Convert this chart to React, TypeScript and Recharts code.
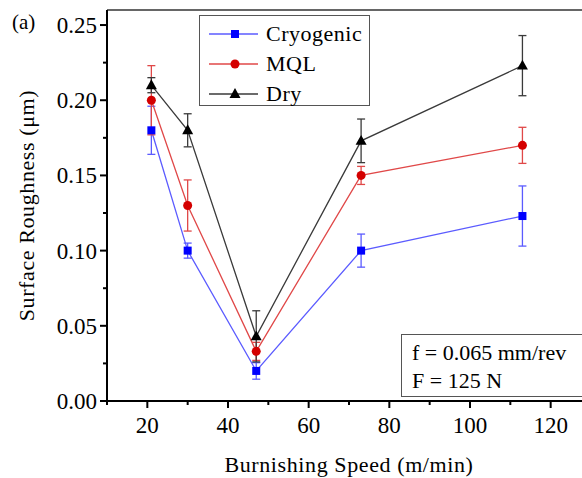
import React from 'react';
import { LineChart, Line, XAxis, YAxis, ErrorBar, Legend, ReferenceLine } from 'recharts';

const speeds = [21, 30, 47, 73, 113];
const cryogenic = [0.18, 0.1, 0.02, 0.1, 0.123];
const cryogenicErr = [0.016, 0.005, 0.0055, 0.011, 0.02];
const mql = [0.2, 0.13, 0.033, 0.15, 0.17];
const mqlErr = [0.023, 0.017, 0.006, 0.006, 0.012];
const dry = [0.21, 0.18, 0.043, 0.173, 0.223];
const dryErr = [0.005, 0.011, 0.017, 0.0145, 0.02];

const xTicks = [10, 20, 30, 40, 50, 60, 70, 80, 90, 100, 110, 120, 130];
const yTicks = [0, 0.025, 0.05, 0.075, 0.1, 0.125, 0.15, 0.175, 0.2, 0.225, 0.25];

const seriesNames = ['Cryogenic', 'MQL', 'Dry'];

const data = speeds.map((s, i) => ({
  speed: s,
  cryo: cryogenic[i],
  cryoErr: cryogenicErr[i],
  mql: mql[i],
  mqlErr: mqlErr[i],
  dry: dry[i],
  dryErr: dryErr[i],
}));

const FONT = '"Liberation Serif", "Times New Roman", serif';

const COLORS = {
  cryoLine: '#5b5bff',
  cryoMark: '#0000ff',
  mqlLine: '#e04848',
  mqlMark: '#d40000',
  dryLine: '#3a3a3a',
  dryMark: '#000000',
};

const Square = (props: any) => {
  const { cx, cy, fill, size = 8 } = props;
  if (cx == null || cy == null) return null;
  return <rect x={cx - size / 2} y={cy - size / 2} width={size} height={size} fill={fill} />;
};
const Circ = (props: any) => {
  const { cx, cy, fill, size = 9 } = props;
  if (cx == null || cy == null) return null;
  return <circle cx={cx} cy={cy} r={size / 2} fill={fill} />;
};
const Tri = (props: any) => {
  const { cx, cy, fill, size = 11 } = props;
  if (cx == null || cy == null) return null;
  const h = size * 0.9;
  return (
    <path
      d={`M${cx},${cy - h * 0.6} L${cx + size / 2},${cy + h * 0.4} L${cx - size / 2},${cy + h * 0.4} Z`}
      fill={fill}
    />
  );
};

const XTick = (props: any) => {
  const { x, y, payload } = props;
  const v = payload.value;
  const major = v % 20 === 0;
  return (
    <g>
      <line x1={x} y1={y} x2={x} y2={y + (major ? 7 : 4)} stroke="#000" strokeWidth={2} />
      {major && (
        <text x={x} y={y + 32} textAnchor="middle" fontFamily={FONT} fontSize={23} fill="#000">
          {v}
        </text>
      )}
    </g>
  );
};

const YTick = (props: any) => {
  const { x, y, payload } = props;
  const v = payload.value;
  const major = Math.round(v * 1000) % 50 === 0;
  return (
    <g>
      <line x1={x} y1={y} x2={x - (major ? 7 : 4)} y2={y} stroke="#000" strokeWidth={2} />
      {major && (
        <text x={x - 10} y={y} dy="0.35em" textAnchor="end" fontFamily={FONT} fontSize={23} fill="#000">
          {v.toFixed(2)}
        </text>
      )}
    </g>
  );
};

const legendItems = [
  { name: seriesNames[0], line: COLORS.cryoLine, mark: COLORS.cryoMark, Shape: Square },
  { name: seriesNames[1], line: COLORS.mqlLine, mark: COLORS.mqlMark, Shape: Circ },
  { name: seriesNames[2], line: COLORS.dryLine, mark: COLORS.dryMark, Shape: Tri },
];

const renderLegend = () => (
  <div
    style={{
      width: 171,
      height: 91,
      boxSizing: 'border-box',
      border: '1.5px solid #555',
      background: '#fff',
      position: 'relative',
      fontFamily: FONT,
    }}
  >
    {legendItems.map((it, i) => (
      <div
        key={it.name}
        style={{
          position: 'absolute',
          left: 0,
          top: 3 + i * 29.8,
          height: 30,
          width: '100%',
          display: 'flex',
          alignItems: 'center',
        }}
      >
        <svg width={66} height={30} style={{ flex: 'none' }}>
          <line x1={9} y1={15} x2={58} y2={15} stroke={it.line} strokeWidth={1.3} />
          <it.Shape cx={35} cy={15} fill={it.mark} />
        </svg>
        <span style={{ fontSize: 22, color: '#000', letterSpacing: 0.5, lineHeight: '30px' }}>{it.name}</span>
      </div>
    ))}
  </div>
);

export default function App() {
  return (
    <div
      style={{
        position: 'absolute',
        left: 0,
        top: 0,
        width: 582,
        height: 478,
        overflow: 'hidden',
        background: '#fff',
        fontFamily: FONT,
      }}
    >
      <LineChart width={600} height={478} data={data} margin={{ top: 10, right: 9, left: 0, bottom: 0 }}>
        <XAxis
          dataKey="speed"
          type="number"
          domain={[10, 130]}
          ticks={xTicks}
          interval={0}
          tickSize={0}
          tickMargin={0}
          tickLine={false}
          tick={<XTick />}
          height={77}
          axisLine={{ stroke: '#000', strokeWidth: 2 }}
          label={{
            value: 'Burnishing Speed (m/min)',
            position: 'insideBottom',
            offset: 6,
            style: { fontFamily: FONT, fontSize: 22, fill: '#000', letterSpacing: 0.6 },
          }}
        />
        <YAxis
          type="number"
          domain={[0, 0.26]}
          ticks={yTicks}
          interval={0}
          tickSize={0}
          tickMargin={0}
          tickLine={false}
          tick={<YTick />}
          width={107}
          axisLine={{ stroke: '#000', strokeWidth: 2 }}
          label={{
            value: 'Surface Roughness (\u03bcm)',
            angle: -90,
            position: 'insideLeft',
            offset: 31,
            dx: -5,
            style: { fontFamily: FONT, fontSize: 22, fill: '#000', textAnchor: 'middle', letterSpacing: 0.6 },
          }}
        />
        <ReferenceLine y={0.26} stroke="#666" strokeWidth={2} />
        <Legend
          layout="vertical"
          align="center"
          verticalAlign="middle"
          content={renderLegend}
          wrapperStyle={{ position: 'absolute', left: 199, top: 15, width: 171, height: 91 }}
        />
        <Line
          dataKey="cryo"
          name={seriesNames[0]}
          type="linear"
          stroke={COLORS.cryoLine}
          strokeWidth={1.3}
          isAnimationActive={false}
          dot={(p: any) => <Square key={`c${p.index}`} cx={p.cx} cy={p.cy} fill={COLORS.cryoMark} />}
          activeDot={false}
        >
          <ErrorBar dataKey="cryoErr" direction="y" width={4} stroke={COLORS.cryoLine} strokeWidth={1.3} />
        </Line>
        <Line
          dataKey="mql"
          name={seriesNames[1]}
          type="linear"
          stroke={COLORS.mqlLine}
          strokeWidth={1.3}
          isAnimationActive={false}
          dot={(p: any) => <Circ key={`m${p.index}`} cx={p.cx} cy={p.cy} fill={COLORS.mqlMark} />}
          activeDot={false}
        >
          <ErrorBar dataKey="mqlErr" direction="y" width={4} stroke={COLORS.mqlLine} strokeWidth={1.3} />
        </Line>
        <Line
          dataKey="dry"
          name={seriesNames[2]}
          type="linear"
          stroke={COLORS.dryLine}
          strokeWidth={1.3}
          isAnimationActive={false}
          dot={(p: any) => <Tri key={`d${p.index}`} cx={p.cx} cy={p.cy} fill={COLORS.dryMark} />}
          activeDot={false}
        >
          <ErrorBar dataKey="dryErr" direction="y" width={4} stroke={COLORS.dryLine} strokeWidth={1.3} />
        </Line>
      </LineChart>
      <div
        style={{
          position: 'absolute',
          left: 401,
          top: 334,
          width: 200,
          height: 63,
          boxSizing: 'border-box',
          border: '1.5px solid #555',
          background: '#fff',
          fontFamily: FONT,
          fontSize: 22,
          lineHeight: '28px',
          paddingLeft: 10,
          paddingTop: 4,
          color: '#000',
        }}
      >
        <div>f = 0.065 mm/rev</div>
        <div>F = 125 N</div>
      </div>
      <div
        style={{
          position: 'absolute',
          left: 12,
          top: 9,
          fontFamily: FONT,
          fontSize: 21,
          color: '#000',
          lineHeight: '26px',
        }}
      >
        (a)
      </div>
    </div>
  );
}
